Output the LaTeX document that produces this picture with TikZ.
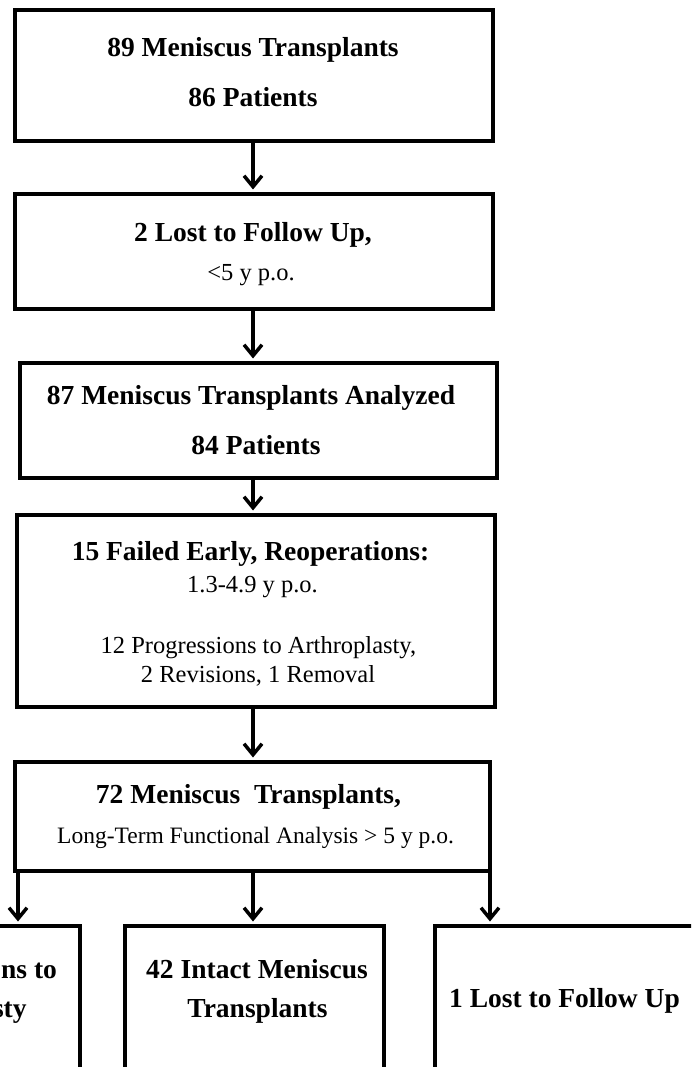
\documentclass[tikz,border=0pt]{standalone}
\usepackage{fontspec}
\setmainfont{Liberation Serif}
\usetikzlibrary{arrows.meta}
\tikzset{
  box/.style={draw, line width=4.5pt, inner sep=0pt, anchor=center},
  arr/.style={line width=3.5pt, -{Straight Barb[length=11pt,width=18pt]}, shorten >=2.25pt},
  bt/.style={font=\fontsize{27.5}{33}\selectfont\bfseries, anchor=base, inner sep=0pt},
  rt/.style={font=\fontsize{24.5}{29}\selectfont, anchor=base, inner sep=0pt},
  st/.style={font=\fontsize{23.5}{28}\selectfont, anchor=base, inner sep=0pt},
}
\begin{document}
\begin{tikzpicture}[x=1pt,y=-1pt]
\useasboundingbox (0,0) rectangle (691,1067);
\clip (0,0) rectangle (691,1067);

% boxes
\node[box, minimum width=478pt, minimum height=131pt] (b1) at (254,75.5) {};
\node[box, minimum width=478pt, minimum height=115pt] (b2) at (254,251.5) {};
\node[box, minimum width=477pt, minimum height=115pt] (b3) at (258.5,420.5) {};
\node[box, minimum width=478pt, minimum height=192pt] (b4) at (256,611) {};
\node[box, minimum width=475pt, minimum height=109pt] (b5) at (252.5,816.5) {};
\node[box, minimum width=259pt, minimum height=204pt] (lb) at (-49.5,1028) {};
\node[box, minimum width=259pt, minimum height=204pt] (mb) at (254.5,1028) {};
\node[box, minimum width=259pt, minimum height=204pt] (rb) at (564.5,1028) {};

% texts
\node[bt] (t1a) at (253,57) {89 Meniscus Transplants};
\node[bt] (t1b) at (253,107) {86 Patients};
\node[bt] (t2a) at (253,242) {2 Lost to Follow Up,};
\node[rt] (t2b) at (251,280) {<5 y p.o.};
\node[bt] (t3a) at (251,404) {87 Meniscus Transplants Analyzed};
\node[bt] (t3b) at (256,454) {84 Patients};
\node[bt] (t4a) at (250.5,560) {15 Failed Early, Reoperations:};
\node[rt] (t4b) at (252.5,592) {1.3-4.9 y p.o.};
\node[rt] (t4c) at (258.5,653) {12 Progressions to Arthroplasty,};
\node[rt] (t4d) at (258,682) {2 Revisions, 1 Removal};
\node[bt] (t5a) at (248.5,803) {72 Meniscus~~Transplants,};
\node[st] (t5b) at (255.5,843) {Long-Term Functional Analysis > 5 y p.o.};
\node[bt] (tla) at (-49.5,978) {29 Progressions to};
\node[bt] (tlb) at (-49.5,1017) {Arthroplasty};
\node[bt] (tma) at (257,978) {42 Intact Meniscus};
\node[bt] (tmb) at (257.5,1017) {Transplants};
\node[bt] (tr) at (564.5,1007) {1 Lost to Follow Up};

% connectors
\coordinate (cx) at (253,0);
\coordinate (lx) at (18,0);
\coordinate (rx) at (490,0);
\draw[arr] (b1.south -| cx) -- (b2.north -| cx);
\draw[arr] (b2.south -| cx) -- (b3.north -| cx);
\draw[arr] (b3.south -| cx) -- (b4.north -| cx);
\draw[arr] (b4.south -| cx) -- (b5.north -| cx);
\draw[arr] (b5.south -| lx) -- (lb.north -| lx);
\draw[arr] (b5.south -| cx) -- (mb.north -| cx);
\draw[arr] (b5.south -| rx) -- (rb.north -| rx);
\end{tikzpicture}
\end{document}
